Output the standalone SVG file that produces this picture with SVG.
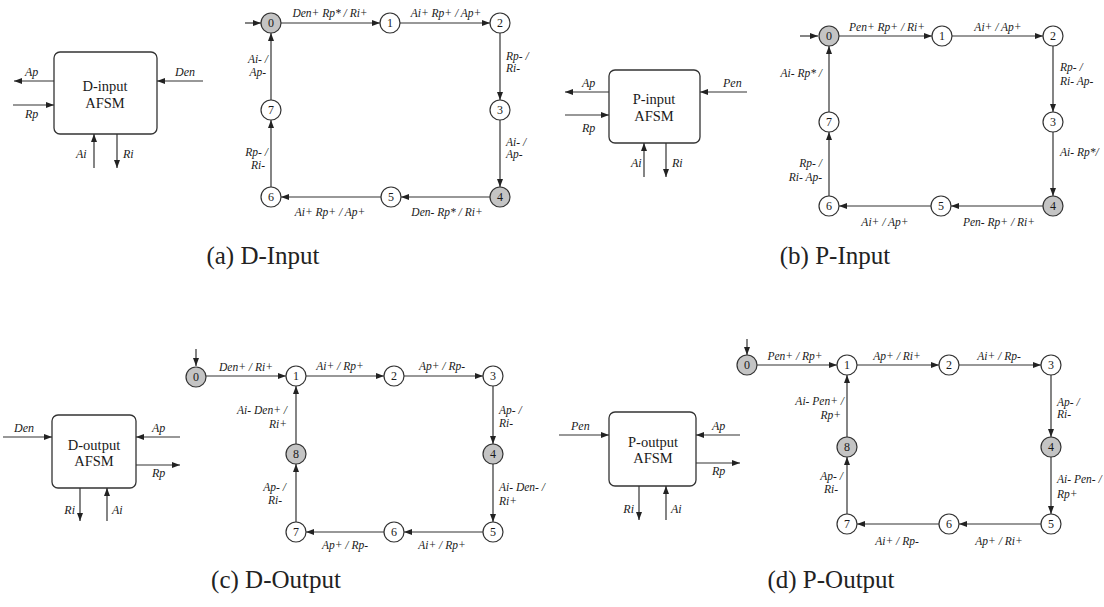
<svg xmlns="http://www.w3.org/2000/svg" width="1104" height="607" viewBox="0 0 1104 607">
<style>
.ln{stroke:#333;stroke-width:1.2;fill:none}
.nd{fill:#fff;stroke:#333;stroke-width:1.2}
.g{fill:#c4c4c4}
.lb{font-family:"Liberation Serif",serif;font-style:italic;font-size:11.5px;fill:#1a1a1a}
.bl{font-family:"Liberation Serif",serif;font-style:italic;font-size:12px;fill:#1a1a1a}
.nt{font-family:"Liberation Serif",serif;font-size:12px;text-anchor:middle;fill:#1a1a1a}
.bx{fill:#fff;stroke:#333;stroke-width:1.3}
.bt{font-family:"Liberation Serif",serif;font-size:14.5px;text-anchor:middle;fill:#1a1a1a}
.cap{font-family:"Liberation Serif",serif;font-size:25px;text-anchor:middle;fill:#222}
.m{text-anchor:middle}.e{text-anchor:end}
</style>
<defs>
<marker id="ah" markerUnits="userSpaceOnUse" markerWidth="8" markerHeight="6" refX="8" refY="3" orient="auto">
<path d="M0,0 L8,3 L0,6 z" fill="#222"/>
</marker>
</defs>
<rect width="1104" height="607" fill="#fff"/>

<!-- (a) D-input box -->
<g id="box-a">
<rect class="bx" x="54" y="52" width="103" height="82" rx="6"/>
<text class="bt" x="105" y="91">D-input</text>
<text class="bt" x="105" y="108">AFSM</text>
</g>
<g id="io-a">
<line class="ln" x1="54" y1="81" x2="14" y2="81" marker-end="url(#ah)"/>
<line class="ln" x1="13" y1="105" x2="54" y2="105" marker-end="url(#ah)"/>
<line class="ln" x1="203" y1="81" x2="157" y2="81" marker-end="url(#ah)"/>
<line class="ln" x1="94" y1="168" x2="94" y2="134" marker-end="url(#ah)"/>
<line class="ln" x1="117" y1="134" x2="117" y2="168" marker-end="url(#ah)"/>
<text class="bl" x="25" y="76">Ap</text>
<text class="bl" x="25" y="118">Rp</text>
<text class="bl" x="175" y="76">Den</text>
<text class="bl" x="76" y="158">Ai</text>
<text class="bl" x="123" y="158">Ri</text>
</g>

<!-- (a) graph -->
<g id="edges-a">
<line class="ln" x1="245" y1="23" x2="261" y2="23" marker-end="url(#ah)"/>
<line class="ln" x1="281" y1="23" x2="380" y2="23" marker-end="url(#ah)"/>
<line class="ln" x1="400" y1="23" x2="490" y2="23" marker-end="url(#ah)"/>
<line class="ln" x1="500" y1="33" x2="500" y2="100" marker-end="url(#ah)"/>
<line class="ln" x1="500" y1="120" x2="500" y2="187" marker-end="url(#ah)"/>
<line class="ln" x1="490" y1="197" x2="401" y2="197" marker-end="url(#ah)"/>
<line class="ln" x1="381" y1="197" x2="281" y2="197" marker-end="url(#ah)"/>
<line class="ln" x1="271" y1="187" x2="271" y2="120" marker-end="url(#ah)"/>
<line class="ln" x1="271" y1="100" x2="271" y2="33" marker-end="url(#ah)"/>
<text class="lb m" x="330" y="17">Den+ Rp* / Ri+</text>
<text class="lb m" x="446" y="17">Ai+ Rp+ / Ap+</text>
<text class="lb" x="506" y="60">Rp- /</text>
<text class="lb" x="506" y="72">Ri-</text>
<text class="lb" x="506" y="146">Ai- /</text>
<text class="lb" x="506" y="158">Ap-</text>
<text class="lb e" x="268" y="63">Ai- /</text>
<text class="lb e" x="266" y="76">Ap-</text>
<text class="lb e" x="268" y="156">Rp- /</text>
<text class="lb e" x="265" y="169">Ri-</text>
<text class="lb m" x="330" y="216">Ai+ Rp+ / Ap+</text>
<text class="lb m" x="447" y="216">Den- Rp* / Ri+</text>
</g>
<g id="a-n0"><circle class="nd g" cx="271" cy="23" r="10"/><text class="nt" x="271" y="27">0</text></g>
<g id="a-n1"><circle class="nd" cx="390" cy="23" r="10"/><text class="nt" x="390" y="27">1</text></g>
<g id="a-n2"><circle class="nd" cx="500" cy="23" r="10"/><text class="nt" x="500" y="27">2</text></g>
<g id="a-n3"><circle class="nd" cx="500" cy="110" r="10"/><text class="nt" x="500" y="114">3</text></g>
<g id="a-n4"><circle class="nd g" cx="500" cy="197" r="10"/><text class="nt" x="500" y="201">4</text></g>
<g id="a-n5"><circle class="nd" cx="391" cy="197" r="10"/><text class="nt" x="391" y="201">5</text></g>
<g id="a-n6"><circle class="nd" cx="271" cy="197" r="10"/><text class="nt" x="271" y="201">6</text></g>
<g id="a-n7"><circle class="nd" cx="271" cy="110" r="10"/><text class="nt" x="271" y="114">7</text></g>

<!-- (b) P-input box -->
<g id="box-b">
<rect class="bx" x="609" y="70" width="91" height="73" rx="6"/>
<text class="bt" x="654" y="104">P-input</text>
<text class="bt" x="654" y="121">AFSM</text>
</g>
<g id="io-b">
<line class="ln" x1="609" y1="92" x2="565" y2="92" marker-end="url(#ah)"/>
<line class="ln" x1="565" y1="115" x2="609" y2="115" marker-end="url(#ah)"/>
<line class="ln" x1="747" y1="92" x2="700" y2="92" marker-end="url(#ah)"/>
<line class="ln" x1="644" y1="177" x2="644" y2="143" marker-end="url(#ah)"/>
<line class="ln" x1="666" y1="143" x2="666" y2="177" marker-end="url(#ah)"/>
<text class="bl" x="582" y="87">Ap</text>
<text class="bl" x="582" y="132">Rp</text>
<text class="bl" x="723" y="87">Pen</text>
<text class="bl" x="631" y="167">Ai</text>
<text class="bl" x="672" y="167">Ri</text>
</g>

<!-- (b) graph -->
<g id="edges-b">
<line class="ln" x1="800" y1="36" x2="818" y2="36" marker-end="url(#ah)"/>
<line class="ln" x1="839" y1="36" x2="932" y2="36" marker-end="url(#ah)"/>
<line class="ln" x1="952" y1="36" x2="1043" y2="36" marker-end="url(#ah)"/>
<line class="ln" x1="1053" y1="46" x2="1053" y2="112" marker-end="url(#ah)"/>
<line class="ln" x1="1053" y1="132" x2="1053" y2="196" marker-end="url(#ah)"/>
<line class="ln" x1="1043" y1="206" x2="951" y2="206" marker-end="url(#ah)"/>
<line class="ln" x1="931" y1="206" x2="839" y2="206" marker-end="url(#ah)"/>
<line class="ln" x1="829" y1="196" x2="829" y2="132" marker-end="url(#ah)"/>
<line class="ln" x1="829" y1="112" x2="829" y2="46" marker-end="url(#ah)"/>
<text class="lb m" x="887" y="31">Pen+ Rp+ / Ri+</text>
<text class="lb m" x="998" y="31">Ai+ / Ap+</text>
<text class="lb" x="1060" y="71">Rp- /</text>
<text class="lb" x="1060" y="85">Ri- Ap-</text>
<text class="lb" x="1060" y="156">Ai- Rp*/</text>
<text class="lb e" x="822" y="77">Ai- Rp* /</text>
<text class="lb e" x="822" y="167">Rp- /</text>
<text class="lb e" x="822" y="181">Ri- Ap-</text>
<text class="lb m" x="885" y="226">Ai+ / Ap+</text>
<text class="lb m" x="999" y="226">Pen- Rp+ / Ri+</text>
</g>
<g id="b-n0"><circle class="nd g" cx="829" cy="36" r="10"/><text class="nt" x="829" y="40">0</text></g>
<g id="b-n1"><circle class="nd" cx="942" cy="36" r="10"/><text class="nt" x="942" y="40">1</text></g>
<g id="b-n2"><circle class="nd" cx="1053" cy="36" r="10"/><text class="nt" x="1053" y="40">2</text></g>
<g id="b-n3"><circle class="nd" cx="1053" cy="122" r="10"/><text class="nt" x="1053" y="126">3</text></g>
<g id="b-n4"><circle class="nd g" cx="1053" cy="206" r="10"/><text class="nt" x="1053" y="210">4</text></g>
<g id="b-n5"><circle class="nd" cx="941" cy="206" r="10"/><text class="nt" x="941" y="210">5</text></g>
<g id="b-n6"><circle class="nd" cx="829" cy="206" r="10"/><text class="nt" x="829" y="210">6</text></g>
<g id="b-n7"><circle class="nd" cx="829" cy="122" r="10"/><text class="nt" x="829" y="126">7</text></g>

<!-- (c) D-output box -->
<g id="box-c">
<rect class="bx" x="52" y="415" width="84" height="73" rx="6"/>
<text class="bt" x="94" y="450">D-output</text>
<text class="bt" x="94" y="466">AFSM</text>
</g>
<g id="io-c">
<line class="ln" x1="3" y1="437" x2="52" y2="437" marker-end="url(#ah)"/>
<line class="ln" x1="180" y1="437" x2="136" y2="437" marker-end="url(#ah)"/>
<line class="ln" x1="136" y1="465" x2="180" y2="465" marker-end="url(#ah)"/>
<line class="ln" x1="80" y1="488" x2="80" y2="521" marker-end="url(#ah)"/>
<line class="ln" x1="107" y1="521" x2="107" y2="488" marker-end="url(#ah)"/>
<text class="bl" x="14" y="432">Den</text>
<text class="bl" x="152" y="432">Ap</text>
<text class="bl" x="152" y="477">Rp</text>
<text class="bl e" x="75" y="514">Ri</text>
<text class="bl" x="112" y="514">Ai</text>
</g>

<!-- (c) graph -->
<g id="edges-c">
<line class="ln" x1="196" y1="349" x2="196" y2="366" marker-end="url(#ah)"/>
<line class="ln" x1="206" y1="376" x2="286" y2="376" marker-end="url(#ah)"/>
<line class="ln" x1="306" y1="376" x2="384" y2="376" marker-end="url(#ah)"/>
<line class="ln" x1="404" y1="376" x2="483" y2="376" marker-end="url(#ah)"/>
<line class="ln" x1="493" y1="386" x2="493" y2="444" marker-end="url(#ah)"/>
<line class="ln" x1="493" y1="464" x2="493" y2="522" marker-end="url(#ah)"/>
<line class="ln" x1="483" y1="532" x2="404" y2="532" marker-end="url(#ah)"/>
<line class="ln" x1="384" y1="532" x2="306" y2="532" marker-end="url(#ah)"/>
<line class="ln" x1="296" y1="522" x2="296" y2="464" marker-end="url(#ah)"/>
<line class="ln" x1="296" y1="444" x2="296" y2="386" marker-end="url(#ah)"/>
<text class="lb m" x="246" y="371">Den+ / Ri+</text>
<text class="lb m" x="340" y="370">Ai+ / Rp+</text>
<text class="lb m" x="442" y="370">Ap+ / Rp-</text>
<text class="lb" x="499" y="414">Ap- /</text>
<text class="lb" x="499" y="427">Ri-</text>
<text class="lb" x="499" y="491">Ai- Den- /</text>
<text class="lb" x="499" y="505">Ri+</text>
<text class="lb e" x="287" y="414">Ai- Den+ /</text>
<text class="lb e" x="287" y="428">Ri+</text>
<text class="lb e" x="286" y="491">Ap- /</text>
<text class="lb e" x="282" y="504">Ri-</text>
<text class="lb m" x="345" y="549">Ap+ / Rp-</text>
<text class="lb m" x="442" y="549">Ai+ / Rp+</text>
</g>
<g id="c-n0"><circle class="nd g" cx="196" cy="377" r="10"/><text class="nt" x="196" y="381">0</text></g>
<g id="c-n1"><circle class="nd" cx="296" cy="376" r="10"/><text class="nt" x="296" y="380">1</text></g>
<g id="c-n2"><circle class="nd" cx="394" cy="376" r="10"/><text class="nt" x="394" y="380">2</text></g>
<g id="c-n3"><circle class="nd" cx="493" cy="376" r="10"/><text class="nt" x="493" y="380">3</text></g>
<g id="c-n4"><circle class="nd g" cx="493" cy="454" r="10"/><text class="nt" x="493" y="458">4</text></g>
<g id="c-n5"><circle class="nd" cx="493" cy="532" r="10"/><text class="nt" x="493" y="536">5</text></g>
<g id="c-n6"><circle class="nd" cx="394" cy="532" r="10"/><text class="nt" x="394" y="536">6</text></g>
<g id="c-n7"><circle class="nd" cx="296" cy="532" r="10"/><text class="nt" x="296" y="536">7</text></g>
<g id="c-n8"><circle class="nd g" cx="296" cy="454" r="10"/><text class="nt" x="296" y="458">8</text></g>

<!-- (d) P-output box -->
<g id="box-d">
<rect class="bx" x="609" y="412" width="87" height="74" rx="6"/>
<text class="bt" x="653" y="447">P-output</text>
<text class="bt" x="653" y="463">AFSM</text>
</g>
<g id="io-d">
<line class="ln" x1="559" y1="435" x2="609" y2="435" marker-end="url(#ah)"/>
<line class="ln" x1="740" y1="435" x2="696" y2="435" marker-end="url(#ah)"/>
<line class="ln" x1="696" y1="463" x2="740" y2="463" marker-end="url(#ah)"/>
<line class="ln" x1="639" y1="486" x2="639" y2="520" marker-end="url(#ah)"/>
<line class="ln" x1="666" y1="520" x2="666" y2="486" marker-end="url(#ah)"/>
<text class="bl" x="571" y="430">Pen</text>
<text class="bl" x="712" y="430">Ap</text>
<text class="bl" x="712" y="475">Rp</text>
<text class="bl e" x="634" y="513">Ri</text>
<text class="bl" x="671" y="513">Ai</text>
</g>

<!-- (d) graph -->
<g id="edges-d">
<line class="ln" x1="747" y1="339" x2="747" y2="355" marker-end="url(#ah)"/>
<line class="ln" x1="757" y1="365" x2="837" y2="365" marker-end="url(#ah)"/>
<line class="ln" x1="857" y1="365" x2="939" y2="365" marker-end="url(#ah)"/>
<line class="ln" x1="959" y1="365" x2="1041" y2="365" marker-end="url(#ah)"/>
<line class="ln" x1="1051" y1="375" x2="1051" y2="437" marker-end="url(#ah)"/>
<line class="ln" x1="1051" y1="457" x2="1051" y2="514" marker-end="url(#ah)"/>
<line class="ln" x1="1041" y1="524" x2="959" y2="524" marker-end="url(#ah)"/>
<line class="ln" x1="939" y1="524" x2="857" y2="524" marker-end="url(#ah)"/>
<line class="ln" x1="847" y1="514" x2="847" y2="457" marker-end="url(#ah)"/>
<line class="ln" x1="847" y1="437" x2="847" y2="375" marker-end="url(#ah)"/>
<text class="lb m" x="795" y="360">Pen+ / Rp+</text>
<text class="lb m" x="897" y="360">Ap+ / Ri+</text>
<text class="lb m" x="999" y="360">Ai+ / Rp-</text>
<text class="lb" x="1057" y="406">Ap- /</text>
<text class="lb" x="1057" y="418">Ri-</text>
<text class="lb" x="1057" y="483">Ai- Pen- /</text>
<text class="lb" x="1057" y="498">Rp+</text>
<text class="lb e" x="844" y="405">Ai- Pen+ /</text>
<text class="lb e" x="841" y="419">Rp+</text>
<text class="lb e" x="843" y="480">Ap- /</text>
<text class="lb e" x="838" y="493">Ri-</text>
<text class="lb m" x="897" y="545">Ai+ / Rp-</text>
<text class="lb m" x="999" y="545">Ap+ / Ri+</text>
</g>
<g id="d-n0"><circle class="nd g" cx="747" cy="365" r="10"/><text class="nt" x="747" y="369">0</text></g>
<g id="d-n1"><circle class="nd" cx="847" cy="365" r="10"/><text class="nt" x="847" y="369">1</text></g>
<g id="d-n2"><circle class="nd" cx="949" cy="365" r="10"/><text class="nt" x="949" y="369">2</text></g>
<g id="d-n3"><circle class="nd" cx="1051" cy="365" r="10"/><text class="nt" x="1051" y="369">3</text></g>
<g id="d-n4"><circle class="nd g" cx="1051" cy="447" r="10"/><text class="nt" x="1051" y="451">4</text></g>
<g id="d-n5"><circle class="nd" cx="1051" cy="524" r="10"/><text class="nt" x="1051" y="528">5</text></g>
<g id="d-n6"><circle class="nd" cx="949" cy="524" r="10"/><text class="nt" x="949" y="528">6</text></g>
<g id="d-n7"><circle class="nd" cx="847" cy="524" r="10"/><text class="nt" x="847" y="528">7</text></g>
<g id="d-n8"><circle class="nd g" cx="847" cy="447" r="10"/><text class="nt" x="847" y="451">8</text></g>

<!-- captions -->
<g id="captions">
<text class="cap" x="263" y="264">(a) D-Input</text>
<text class="cap" x="835" y="264">(b) P-Input</text>
<text class="cap" x="276" y="588">(c) D-Output</text>
<text class="cap" x="831" y="588">(d) P-Output</text>
</g>
</svg>
